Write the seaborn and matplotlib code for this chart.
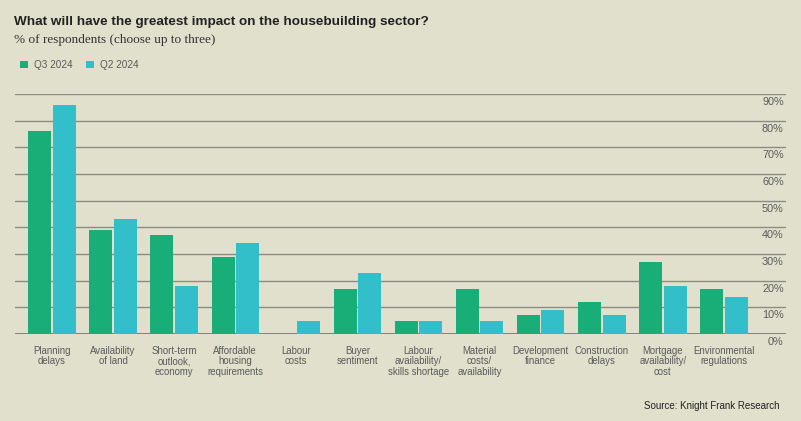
import matplotlib
matplotlib.use("Agg")
import matplotlib.pyplot as plt
import matplotlib.transforms as mtransforms
from matplotlib.patches import Patch
import seaborn as sns
import pandas as pd

categories = [
    "Planning\ndelays", "Availability\nof land", "Short-term\noutlook,\neconomy",
    "Affordable\nhousing\nrequirements", "Labour\ncosts", "Buyer\nsentiment",
    "Labour\navailability/\nskills shortage", "Material\ncosts/\navailability",
    "Development\nfinance", "Construction\ndelays", "Mortgage\navailability/\ncost",
    "Environmental\nregulations",
]
q3_2024 = [76, 39, 37, 29, 0, 17, 5, 17, 7, 12, 27, 17]
q2_2024 = [86, 43, 18, 34, 5, 23, 5, 5, 9, 7, 18, 14]
series_names = ["Q3 2024", "Q2 2024"]
y_ticks = [0, 10, 20, 30, 40, 50, 60, 70, 80, 90]
y_tick_labels = [f"{v}%" for v in y_ticks]

BG = "#e0e0cc"
GREEN = "#19ad77"
TEAL = "#33bfca"
GRID = "#8c8c84"
TXT = "#5a5a5a"

df = pd.DataFrame({
    "category": categories * 2,
    "value": q3_2024 + q2_2024,
    "series": [series_names[0]] * len(categories) + [series_names[1]] * len(categories),
})

sns.set_theme(style="white")
plt.rcParams["font.family"] = ["Liberation Sans", "DejaVu Sans"]

W, H = 801, 421
fig = plt.figure(figsize=(W / 100, H / 100), dpi=100, facecolor=BG)
ax = fig.add_axes([15 / W, 87 / H, (786 - 15) / W, (334 - 94) / H])
ax.set_facecolor(BG)

sns.barplot(data=df, x="category", y="value", hue="series", order=categories,
            hue_order=series_names, palette=[GREEN, TEAL], width=0.8, gap=0.06,
            saturation=1, legend=False, ax=ax, zorder=2, linewidth=0, edgecolor="none")

ax.set_xlim(-0.606, 12.015)
ax.set_ylim(0, 90)
for s in ax.spines.values():
    s.set_visible(False)

for v in y_ticks[1:]:
    ax.axhline(v, color=GRID, lw=1.0, zorder=1)
ax.axhline(0, color="#7a7a76", lw=2.0, zorder=1)

ax.set_yticks([])
off = mtransforms.offset_copy(ax.get_yaxis_transform(), fig=fig, x=0, y=-8, units="dots")
for v, lab in zip(y_ticks, y_tick_labels):
    ax.text(0.997, v, lab, transform=off, ha="right", va="center",
            fontsize=7.8, color=TXT)

ax.set_xlabel("")
ax.set_ylabel("")
ax.tick_params(axis="x", length=0, pad=8.5)
ax.set_xticks(range(len(categories)))
ax.set_xticklabels(categories, fontsize=6.9, color=TXT, linespacing=1.05, va="top")

fig.text(14 / W, 1 - 22 / H, "What will have the greatest impact on the housebuilding sector?",
         fontsize=9.7, fontweight="bold", color="#222222", ha="left", va="center")
fig.text(14 / W, 1 - 40 / H, "% of respondents (choose up to three)",
         fontsize=9.5, family=["Liberation Serif", "DejaVu Serif"], color="#333333",
         ha="left", va="center")

handles = [Patch(facecolor=GREEN, edgecolor="none"), Patch(facecolor=TEAL, edgecolor="none")]
fig.legend(handles, series_names, loc="center left", bbox_to_anchor=(11 / W, 1 - 65 / H),
           ncol=2, frameon=False, handlelength=0.75, handleheight=0.75, handletextpad=0.6,
           columnspacing=1.4, prop={"size": 7.2}, labelcolor=TXT)

fig.text(779 / W, 1 - 406 / H, "Source: Knight Frank Research",
         fontsize=7, color="#222222", ha="right", va="center")

fig.savefig("out.png", dpi=100, facecolor=BG)
